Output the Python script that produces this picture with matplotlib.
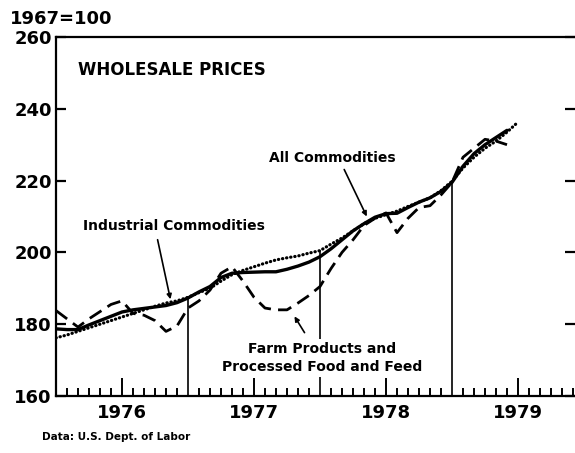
import matplotlib
matplotlib.use("Agg")
import matplotlib.pyplot as plt
import numpy as np

# ---- data (month index 0 = Jan 1976) ----
all_commodities = [178.7, 178.5, 178.5, 179.8, 181.0, 182.2, 183.4, 184.0, 184.4, 184.8,
                   185.2, 186.0, 187.3, 189.0, 190.5, 193.0, 194.2, 194.4, 194.5, 194.6,
                   194.6, 195.3, 196.2, 197.3, 198.8, 201.0, 203.5, 206.0, 208.0, 209.8,
                   210.8, 210.9, 212.5, 214.0, 215.2, 217.0, 219.5, 224.0, 227.5, 230.0,
                   232.0, 234.0]
industrial = [176.2, 177.0, 178.0, 179.0, 180.0, 181.0, 182.0, 183.0, 184.0, 185.0,
              185.9, 186.5, 187.5, 188.8, 190.0, 192.0, 193.8, 195.0, 196.0, 197.0,
              197.9, 198.5, 199.0, 199.8, 200.5, 202.3, 204.0, 206.0, 208.0, 209.5,
              210.5, 211.5, 212.8, 214.0, 215.2, 217.2, 219.8, 223.5, 226.5, 229.0,
              231.0, 233.5, 236.3]
farm = [183.8, 181.5, 179.2, 181.5, 183.5, 185.5, 186.5, 183.0, 182.5, 181.0,
        178.0, 179.5, 184.5, 186.5, 189.5, 194.2, 196.0, 192.0, 187.5, 184.5,
        184.0, 184.0, 185.9, 188.0, 190.5, 195.5, 200.0, 203.5, 207.5, 209.5,
        211.0, 205.5, 209.5, 212.5, 213.0, 216.0, 219.5, 226.5, 229.0, 231.5,
        231.0, 230.0]
year_labels = ["1976", "1977", "1978", "1979"]
y_ticks = [160, 180, 200, 220, 240, 260]

W, H = 575, 453
fig = plt.figure(figsize=(W / 100, H / 100), dpi=100)
ax = fig.add_axes([56 / W, 1 - 396 / H, 519 / W, 359 / H])
ax.set_xlim(0, 519 / 11)
ax.set_ylim(160, 260)

FONT = "DejaVu Sans"

x_all = np.arange(len(all_commodities))
x_ind = np.arange(len(industrial))
x_farm = np.arange(len(farm))

ax.plot(x_all, all_commodities, color="black", lw=2.4, solid_capstyle="round")
ax.plot(x_ind, industrial, color="black", lw=2.3, linestyle=(0, (0.1, 1.2)),
        dash_capstyle="round")
ax.plot(x_farm, farm, color="black", lw=2.0, linestyle=(0, (5, 2.6)))

# year boundary lines
for m in [12, 24, 36]:
    top = np.interp(m, x_ind, industrial)
    ax.plot([m, m], [160, top], color="black", lw=1.2)

# spines
for s in ["left", "bottom", "top"]:
    ax.spines[s].set_linewidth(1.6)
ax.spines["right"].set_visible(False)

ax.set_yticks(y_ticks)
ax.set_yticklabels([str(v) for v in y_ticks], fontsize=13, fontweight="bold", family=FONT)
ax.tick_params(axis="y", direction="in", length=7, width=1.6, pad=3, right=True)

ax.set_xticks([6, 18, 30, 42])
ax.set_xticklabels(year_labels, fontsize=13, fontweight="bold", family=FONT)
ax.set_xticks([m for m in range(1, 48) if m % 6 != 0], minor=True)
ax.tick_params(axis="x", which="major", direction="in", length=13, width=1.4, pad=6)
ax.tick_params(axis="x", which="minor", direction="in", length=6, width=1.4)

def px(x, y):
    return ((x - 56) / 11, 260 - (y - 37) / 3.59)

fig.text(10 / W, 1 - 19 / H, "1967=100", fontsize=13, fontweight="bold", family=FONT,
         va="center", ha="left")
ax.text(*px(78, 70), "WHOLESALE PRICES", fontsize=12, fontweight="bold", family=FONT,
        va="center", ha="left")
ax.text(*px(332, 158), "All Commodities", fontsize=10, fontweight="bold", family=FONT,
        va="center", ha="center")
ax.text(*px(174, 226), "Industrial Commodities", fontsize=10, fontweight="bold", family=FONT,
        va="center", ha="center")
ax.text(*px(322, 358), "Farm Products and\nProcessed Food and Feed", fontsize=10,
        fontweight="bold", family=FONT, va="center", ha="center", multialignment="center",
        linespacing=1.45, zorder=5,
        bbox=dict(facecolor="white", edgecolor="none", pad=2))

arrow = dict(arrowstyle="-|>", color="black", lw=1.2, mutation_scale=7)
ax.annotate("", xy=px(171, 302), xytext=px(157, 237), arrowprops=arrow)
ax.annotate("", xy=px(368, 219), xytext=px(343, 167), arrowprops=arrow)
ax.annotate("", xy=px(293, 314), xytext=px(306, 335), arrowprops=arrow)

fig.text(42 / W, 1 - 437 / H, "Data: U.S. Dept. of Labor", fontsize=7.5, fontweight="bold",
         family=FONT, va="center", ha="left")

fig.savefig("out.png", dpi=100)
